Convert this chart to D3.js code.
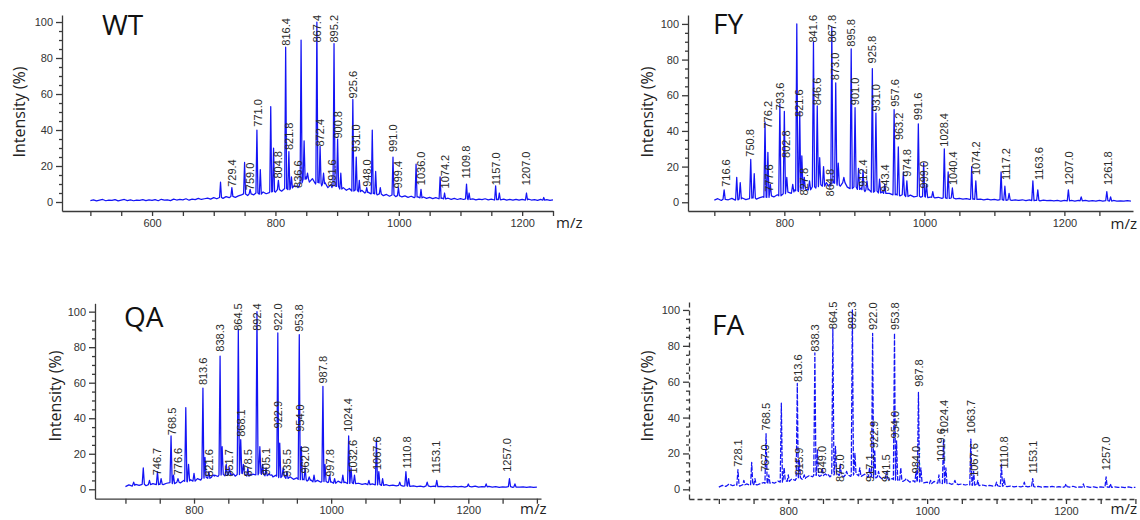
<!DOCTYPE html>
<html>
<head>
<meta charset="utf-8">
<script src="https://cdn.jsdelivr.net/npm/d3@7"></script>
<style>
  body { margin: 0; background: #fff; }
  svg { display: block; }
  .axis text { font-family: Arial, "Liberation Sans", sans-serif; font-size: 11px; fill: #333; }
  .axis path, .axis line { stroke: #3a3a3a; stroke-width: 1.3; }
  .peak-label { font-family: Arial, "Liberation Sans", sans-serif; font-size: 11px; fill: #2a2a2a; }
  .panel-title { font-family: "Open Sans", sans-serif; font-size: 28px; fill: #111; }
  .axis-title { font-family: "Open Sans", sans-serif; font-size: 16px; fill: #222; }
  .mz-title { font-family: "Open Sans", sans-serif; font-size: 15px; fill: #222; }
</style>
</head>
<body>
<svg id="chart" width="1140" height="520"></svg>
<script>
// ---- data (m/z, relative intensity %) ----
const BASE_STEP = 5;

const wtBaseStart = 500;
const wtBaseline = [
  0.8, 1.2, 0.6, 1.0, 1.4, 0.7, 1.1, 0.9, 1.3, 0.6,
  1.0, 1.4, 0.8, 1.2, 0.7, 1.1, 0.9, 1.3, 0.8, 1.2,
  0.9, 1.3, 0.7, 1.5, 1.0, 1.2, 0.8, 1.6, 1.1, 1.4,
  1.2, 1.8, 1.0, 1.6, 1.3, 2.0, 1.4, 1.8, 2.2, 1.6,
  2.4, 1.8, 2.6, 2.0, 3.0, 2.4, 3.2, 2.6, 3.4, 4.0,
  4.5, 3.6, 4.8, 4.0, 5.0, 4.2, 5.6, 4.6, 5.2, 6.0,
  5.5, 7.0, 6.0, 8.0, 6.5, 7.5, 9.0, 8.0, 10, 12,
  14, 11, 13, 10, 12, 9, 11, 8, 10, 9,
  9, 7, 8, 6.5, 7.5, 6, 7, 5.5, 6.5, 5,
  5.5, 4.5, 5, 4, 4.5, 3.5, 4.2, 3.2, 4, 3,
  3.6, 2.8, 3.4, 2.6, 3.2, 2.4, 3.0, 2.2, 2.8, 2.0,
  2.6, 1.9, 2.4, 1.8, 2.2, 1.6, 2.1, 1.5, 2.0, 1.4,
  1.9, 1.4, 1.8, 1.3, 1.7, 1.2, 1.6, 1.3, 1.8, 1.2,
  1.6, 1.1, 1.5, 1.2, 1.6, 1.0, 1.4, 1.1, 1.5, 1.0,
  1.4, 1.0, 1.6, 1.1, 1.3, 0.9, 1.5, 1.0, 1.3, 0.9,
  1.2
];
const wtPeaks = [
  [711, 11], [729.4, 8], [750, 22], [759, 7], [770, 40], [775.5, 18],
  [792.4, 53], [797, 30], [804.8, 12], [816.6, 86], [821.8, 28], [826, 14],
  [836.6, 8], [841.6, 90], [846.5, 34], [852, 16], [867.2, 100], [872.4, 31],
  [878, 16], [891.6, 8], [895, 88], [900.8, 35], [906, 16], [925.5, 57],
  [931, 25], [936, 12], [948, 8], [957, 40], [962.5, 17], [970, 8],
  [990.6, 25], [999.4, 8], [1028, 21], [1036, 7], [1067, 14], [1074.2, 5],
  [1109.8, 10], [1114, 5], [1157, 9], [1163, 5], [1207, 5], [1235, 2.5]
];
const wtLabels = [
  ["729.4", 7.6], ["759.0", 5.7], ["771.0", 41], ["804.8", 12.2], ["816.4", 86],
  ["821.8", 28], ["836.6", 7], ["867.4", 100], ["872.4", 30], ["891.6", 7.6],
  ["895.2", 89], ["900.8", 34.4], ["925.6", 56.7], ["931.0", 27], ["948.0", 7.6],
  ["991.0", 27], ["999.4", 6.7], ["1036.0", 8.5], ["1074.2", 6.7], ["1109.8", 12.2],
  ["1157.0", 8.5], ["1207.0", 8.5]
];

const fyBaseStart = 700;
const fyBaseline = [
  1.2, 2.0, 1.0, 1.8, 1.4, 2.2, 1.2, 1.6, 2.4, 1.5,
  2.0, 2.8, 1.8, 2.6, 3.2, 2.4, 3.6, 3.0, 4.2, 3.4,
  4.8, 6.0, 5.0, 7.0, 6.0, 8.0, 7.0, 6.5, 9.0, 8.0,
  10, 8.5, 11, 9, 12, 10, 9, 11, 8.5, 7.5,
  9, 7, 8, 6, 7.5, 5.5, 6.5, 5, 6, 4.5,
  5, 4, 4.5, 3.6, 4.2, 3.2, 4.0, 3.0, 3.6, 2.8,
  3.4, 2.6, 3.0, 2.4, 2.8, 2.2, 2.6, 2.0, 2.4, 1.9,
  2.2, 1.7, 2.0, 1.6, 1.9, 1.5, 1.8, 1.4, 1.7, 1.3,
  1.6, 1.2, 1.5, 1.1, 1.4, 1.0, 1.3, 1.0, 1.4, 0.9,
  1.3, 0.9, 1.2, 0.8, 1.2, 0.9, 1.1, 0.8, 1.0, 0.7,
  1.1, 0.8, 1.0, 0.7, 1.0, 0.8, 1.1, 0.7, 0.9, 0.6,
  1.0, 0.7, 0.9, 0.6, 1.0, 0.7, 0.8, 0.6, 0.9, 0.6
];
const fyPeaks = [
  [714, 7], [732, 14], [737, 11], [752, 24], [757, 16], [772.4, 45],
  [776.5, 28], [780, 10], [793.6, 55], [800, 51], [803.5, 14], [812, 10],
  [817.8, 100], [822, 51], [825, 26], [828.5, 14], [836, 12], [841.6, 90],
  [847, 54], [850.5, 25], [856, 20], [864.8, 10], [867.8, 98], [873.4, 67],
  [877, 22], [885, 14], [895.5, 86], [901, 53], [906, 19], [912.4, 18],
  [918, 12], [925.7, 75], [930.8, 50], [936, 13], [943.4, 10], [956.8, 52],
  [962.8, 31], [970, 17], [975, 12], [991.4, 44], [999, 22], [1003, 10],
  [1012, 6], [1028.5, 30], [1034, 17], [1040, 8], [1067.6, 20], [1073.5, 12],
  [1109.6, 17], [1115, 9], [1121, 5], [1155, 12], [1162, 7], [1205.7, 7],
  [1224, 3], [1260.6, 6], [1266, 3]
];
const fyLabels = [
  ["716.6", 7.8], ["750.8", 24.7], ["776.2", 40.5], ["777.6", 5], ["793.6", 50.8],
  ["802.8", 24], ["821.6", 47], ["827.8", 3], ["841.6", 89], ["846.6", 53.6],
  ["864.8", 2.4], ["867.8", 100], ["873.0", 67.6], ["895.8", 86.4], ["901.0", 53.6],
  ["912.4", 7.8], ["925.8", 77], ["931.0", 50], ["943.4", 5], ["957.6", 52.7],
  ["963.2", 34], ["974.8", 13.5], ["991.6", 45.2], ["999.0", 6.9], ["1028.4", 30.3],
  ["1040.4", 8.8], ["1074.2", 14.4], ["1117.2", 11.6], ["1163.6", 11.6],
  ["1207.0", 8.8], ["1261.8", 8.8]
];

const qaBaseStart = 700;
const qaBaseline = [
  1.5, 2.5, 1.8, 2.8, 2.2, 3.0, 2.0, 2.6, 3.2, 2.4,
  3.0, 2.6, 3.4, 4.0, 3.2, 4.2, 3.6, 5.0, 4.2, 5.4,
  4.6, 6.0, 5.2, 7.0, 6.0, 6.6, 8.0, 7.2, 8.6, 7.6,
  8.0, 9.0, 7.4, 8.4, 9.4, 8.0, 7.2, 8.8, 7.6, 9.2,
  8.4, 7.6, 8.8, 7.0, 8.0, 6.6, 7.4, 6.0, 7.0, 5.6,
  6.4, 5.2, 5.8, 4.6, 5.4, 4.2, 5.0, 4.0, 4.6, 3.8,
  4.2, 3.4, 4.6, 3.6, 4.0, 3.2, 3.8, 3.0, 3.4, 2.8,
  3.2, 2.6, 3.0, 2.4, 2.8, 2.2, 2.6, 2.0, 2.4, 1.9,
  2.2, 1.8, 2.0, 1.6, 1.9, 1.5, 1.8, 1.4, 1.9, 1.5,
  1.8, 1.4, 1.7, 1.3, 1.6, 1.4, 1.7, 1.3, 1.6, 1.2,
  1.6, 1.3, 1.8, 1.2, 1.5, 1.3, 1.6, 1.2, 1.5, 1.1,
  1.4, 1.2, 1.5, 1.1, 1.4, 1.2, 1.3, 1.1, 1.4, 1.1,
  1.2
];
const qaPeaks = [
  [712, 4], [726, 12], [735, 5], [746.7, 10], [752, 6], [766.5, 30],
  [770, 8], [776.6, 6], [788, 46], [792, 14], [800, 9], [813, 57],
  [816, 18], [821.6, 10], [828, 8], [838, 75], [841, 24], [847, 14],
  [851.7, 12], [856, 8], [864.6, 90], [868.1, 28], [872, 14], [878.5, 12],
  [884, 8], [891.8, 100], [896, 24], [900, 14], [905.1, 12], [912, 8],
  [922.2, 88], [925, 26], [930, 12], [935.5, 10], [953.5, 87], [956.5, 24],
  [962, 12], [968, 7], [975, 8], [988, 58], [991, 14], [997.8, 8],
  [1005, 6], [1017, 8], [1025.5, 30], [1029, 12], [1034, 8], [1055, 5],
  [1066, 28], [1069.5, 10], [1075, 6], [1100, 4], [1109, 10], [1113, 6],
  [1140, 4], [1154, 5], [1200, 3], [1226, 3], [1260, 6], [1268, 3]
];
const qaLabels = [
  ["746.7", 7], ["768.5", 29.6], ["776.6", 7], ["813.6", 57.8], ["821.6", 6.2],
  ["838.3", 76.6], ["851.7", 6.2], ["864.5", 88.7], ["868.1", 28.7], ["878.5", 6.2],
  ["892.4", 100], ["905.1", 7], ["922.0", 89.7], ["922.9", 33.4], ["935.5", 6.2],
  ["953.8", 87.8], ["954.0", 31.5], ["962.0", 8], ["987.8", 58.7], ["997.8", 6.2],
  ["1024.4", 31.5], ["1032.6", 8], ["1067.6", 10], ["1110.8", 10.9], ["1153.1", 8],
  ["1257.0", 9]
];

const faBaseStart = 700;
const faBaseline = [
  1.2, 2.2, 1.6, 2.6, 2.0, 2.8, 1.8, 2.4, 3.0, 2.2,
  2.8, 2.4, 3.2, 3.8, 3.0, 4.0, 3.4, 4.6, 4.0, 5.2,
  4.4, 5.8, 5.0, 6.6, 5.6, 6.4, 7.6, 7.0, 8.2, 7.2,
  7.8, 8.6, 7.0, 8.2, 9.0, 7.6, 7.0, 8.4, 7.2, 8.8,
  8.0, 7.2, 8.4, 6.8, 7.6, 6.2, 7.0, 5.8, 6.6, 5.4,
  6.0, 5.0, 5.6, 4.4, 5.2, 4.0, 4.8, 3.8, 4.4, 3.6,
  4.0, 3.2, 4.4, 3.4, 3.8, 3.0, 3.6, 2.8, 3.2, 2.6,
  3.0, 2.4, 2.8, 2.2, 2.6, 2.0, 2.4, 1.9, 2.2, 1.8,
  2.0, 1.6, 1.9, 1.5, 1.8, 1.4, 1.7, 1.3, 1.8, 1.4,
  1.7, 1.3, 1.6, 1.2, 1.5, 1.3, 1.6, 1.2, 1.5, 1.1,
  1.5, 1.2, 1.7, 1.1, 1.4, 1.2, 1.5, 1.1, 1.4, 1.0,
  1.3, 1.1, 1.4, 1.0, 1.3, 1.1, 1.2, 1.0, 1.3, 1.0,
  1.1
];
const faPeaks = [
  [715, 3], [727.5, 11], [736, 5], [747.3, 15], [752, 6], [768, 31],
  [772, 8], [790, 48], [794, 12], [800, 8], [813, 59], [816, 16],
  [823, 8], [838.3, 76], [842, 22], [849, 12], [855, 8], [864.2, 90],
  [868, 24], [875, 14], [884, 10], [892.3, 100], [896, 20], [903, 12],
  [917.1, 12], [921.5, 87], [924.5, 22], [930, 10], [941.5, 10], [953, 87],
  [956, 27], [962, 12], [970, 6], [984, 10], [987.5, 54], [991, 12],
  [1005, 5], [1017, 8], [1023.6, 28], [1027, 12], [1040, 5], [1063, 28],
  [1067, 10], [1073, 5], [1100, 4], [1107, 14], [1111, 6], [1140, 4],
  [1152, 6], [1200, 3], [1225, 3], [1257.8, 7], [1264, 3]
];
const faLabels = [
  ["728.1", 11.7], ["767.0", 8.9], ["768.5", 32], ["813.6", 59], ["815.9", 7],
  ["838.3", 75.8], ["849.0", 8], ["864.5", 89.8], ["875.0", 3.3], ["892.3", 100],
  ["917.1", 3.3], ["922.0", 88], ["922.9", 22], ["941.5", 3.3], ["953.8", 88],
  ["954.0", 27.5], ["984.0", 8], ["987.8", 56.3], ["1019.6", 14.5], ["1024.4", 30.3],
  ["1063.7", 30.3], ["1067.6", 6.1], ["1110.8", 10.8], ["1153.1", 8], ["1257.0", 9.8]
];

const yMajorTicks = [0, 20, 40, 60, 80, 100];
const yMinorTicks = [5, 10, 15, 25, 30, 35, 45, 50, 55, 65, 70, 75, 85, 90, 95];
const xTicksFrom500 = d3.range(500, 1251, 50);
const xTicksFrom700 = d3.range(700, 1301, 50);

// ---- panel layout ----
const panels = [
  {
    title: "WT", titlePos: [102, 35],
    baseStart: wtBaseStart, baseline: wtBaseline, peaks: wtPeaks, labels: wtLabels,
    xDomain: [454, 1250], xRange: [62, 553], xTicks: xTicksFrom500,
    yDomain: [-5, 103.9], yRange: [211, 15],
    yTitle: [19, 112], mz: { x: 556, y: 228, anchor: "start" }, dashed: false,
  },
  {
    title: "FY", titlePos: [713, 34],
    baseStart: fyBaseStart, baseline: fyBaseline, peaks: fyPeaks, labels: fyLabels,
    xDomain: [662.4, 1298], xRange: [688, 1133], xTicks: xTicksFrom700.filter((d) => d < 1300),
    yDomain: [-4.9, 105], yRange: [211, 15],
    yTitle: [647, 112], mz: { x: 1137, y: 229, anchor: "end" }, dashed: false,
  },
  {
    title: "QA", titlePos: [124, 327],
    baseStart: qaBaseStart, baseline: qaBaseline, peaks: qaPeaks, labels: qaLabels,
    xDomain: [655.6, 1306], xRange: [95, 541], xTicks: xTicksFrom700,
    yDomain: [-5.3, 104.7], yRange: [498.7, 303.3],
    yTitle: [55, 396], mz: { x: 520, y: 514, anchor: "start" }, dashed: false,
  },
  {
    title: "FA", titlePos: [712, 335],
    baseStart: faBaseStart, baseline: faBaseline, peaks: faPeaks, labels: faLabels,
    xDomain: [657, 1302.3], xRange: [689, 1137], xTicks: xTicksFrom700,
    yDomain: [-5.4, 104.6], yRange: [499, 301.7],
    yTitle: [647, 396], mz: { x: 1137, y: 514, anchor: "end" }, dashed: true,
  },
];

const traceColor = "#1414f5";
const svg = d3.select("#chart");

panels.forEach((p) => drawPanel(svg, p));

function buildTrace(p) {
  const basePts = p.baseline.map((v, i) => [p.baseStart + i * BASE_STEP, v]);
  const bisect = d3.bisector((d) => d[0]).left;

  // baseline level under a peak, used for the spike feet
  function baseAt(m) {
    const i = Math.min(Math.max(bisect(basePts, m), 1), basePts.length - 1);
    const a = basePts[i - 1], b = basePts[i];
    const t = (m - a[0]) / (b[0] - a[0]);
    return a[1] + (b[1] - a[1]) * Math.max(0, Math.min(1, t));
  }

  const pts = basePts.filter((b) => !p.peaks.some((pk) => Math.abs(pk[0] - b[0]) < 2));
  p.peaks.forEach(([m, h]) => {
    const foot = baseAt(m);
    pts.push([m - 1.6, foot], [m, h], [m + 1.6, foot]);
  });
  pts.sort((a, b) => a[0] - b[0]);
  return pts;
}

function drawPanel(svg, p) {
  const x = d3.scaleLinear().domain(p.xDomain).range(p.xRange);
  const y = d3.scaleLinear().domain(p.yDomain).range(p.yRange);
  const g = svg.append("g");

  // spectrum trace
  const line = d3.line().x((d) => x(d[0])).y((d) => y(d[1]));
  g.append("path")
    .datum(buildTrace(p))
    .attr("fill", "none")
    .attr("stroke", traceColor)
    .attr("stroke-width", 1.25)
    .attr("stroke-linejoin", "round")
    .attr("stroke-dasharray", p.dashed ? "5,1.5" : null)
    .attr("d", line);

  // peak annotations, rotated, clamped to the top of the axis
  const yTop = p.yRange[1];
  g.append("g")
    .selectAll("text")
    .data(p.labels)
    .join("text")
    .attr("class", "peak-label")
    .text((d) => d[0])
    .attr("transform", function (d) {
      const len = this.getComputedTextLength();
      const bottom = Math.max(y(d[1]) - 1.5, yTop + len);
      return `translate(${x(+d[0])},${bottom}) rotate(-90)`;
    })
    .attr("dy", "0.36em");

  // axes
  const xAxis = g.append("g")
    .attr("class", "axis")
    .attr("transform", `translate(0,${p.yRange[0]})`)
    .call(
      d3.axisBottom(x)
        .tickValues(p.xTicks)
        .tickSize(5)
        .tickSizeOuter(0)
        .tickPadding(3)
        .tickFormat((d) => (d % 200 === 0 ? d : ""))
    );

  const yAxis = g.append("g")
    .attr("class", "axis")
    .attr("transform", `translate(${p.xRange[0]},0)`)
    .call(d3.axisLeft(y).tickValues(yMajorTicks).tickSize(6).tickSizeOuter(0).tickPadding(3));

  g.append("g")
    .attr("class", "axis")
    .attr("transform", `translate(${p.xRange[0]},0)`)
    .call(d3.axisLeft(y).tickValues(yMinorTicks).tickSize(3).tickFormat(""))
    .call((s) => s.select(".domain").remove());

  if (p.dashed) {
    xAxis.select(".domain").attr("stroke-dasharray", "5,3");
    yAxis.select(".domain").attr("stroke-dasharray", "5,3");
  }

  // titles
  g.append("text")
    .attr("class", "panel-title")
    .attr("x", p.titlePos[0])
    .attr("y", p.titlePos[1])
    .text(p.title);

  g.append("text")
    .attr("class", "axis-title")
    .attr("transform", `translate(${p.yTitle[0]},${p.yTitle[1]}) rotate(-90)`)
    .attr("text-anchor", "middle")
    .attr("dy", "0.35em")
    .text("Intensity (%)");

  g.append("text")
    .attr("class", "mz-title")
    .attr("x", p.mz.x)
    .attr("y", p.mz.y)
    .attr("text-anchor", p.mz.anchor)
    .text("m/z");
}
</script>
</body>
</html>
